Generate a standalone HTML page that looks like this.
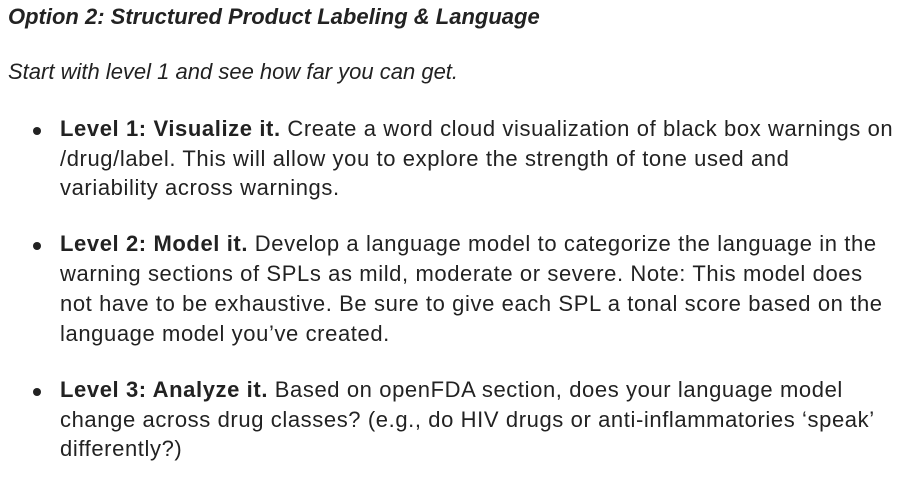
<!DOCTYPE html>
<html><head><meta charset="utf-8"><style>
body{margin:0;width:900px;height:477px;background:#fff;color:#222;font-family:"Liberation Sans",sans-serif;overflow:hidden;position:relative}
.t{position:absolute;white-space:nowrap;font-size:22px;left:60px;letter-spacing:0.6px}
.h{left:8px;font-weight:bold;font-style:italic;letter-spacing:0}
.i{left:8px;font-style:italic;letter-spacing:0}
.dot{position:absolute;left:33px;width:8px;height:8px;border-radius:50%;background:#222}
b{font-weight:bold}
</style></head><body>
<div class="t h" style="top:4px">Option 2: Structured Product Labeling &amp; Language</div>
<div class="t i" style="top:59px">Start with level 1 and see how far you can get.</div>
<div class="dot" style="top:127px"></div>
<div>
<div class="t" style="top:116px"><b>Level 1: Visualize it.</b> Create a word cloud visualization of black box warnings on</div>
<div class="t" style="top:146px">/drug/label. This will allow you to explore the strength of tone used and</div>
<div class="t" style="top:175px">variability across warnings.</div>
</div>
<div class="dot" style="top:242px"></div>
<div>
<div class="t" style="top:231px"><b>Level 2: Model it.</b> Develop a language model to categorize the language in the</div>
<div class="t" style="top:261px">warning sections of SPLs as mild, moderate or severe. Note: This model does</div>
<div class="t" style="top:291px">not have to be exhaustive. Be sure to give each SPL a tonal score based on the</div>
<div class="t" style="top:321px">language model you’ve created.</div>
</div>
<div class="dot" style="top:388px"></div>
<div>
<div class="t" style="top:377px"><b>Level 3: Analyze it.</b> Based on openFDA section, does your language model</div>
<div class="t" style="top:407px">change across drug classes? (e.g., do HIV drugs or anti-inflammatories ‘speak’</div>
<div class="t" style="top:436px">differently?)</div>
</div>
</body></html>
